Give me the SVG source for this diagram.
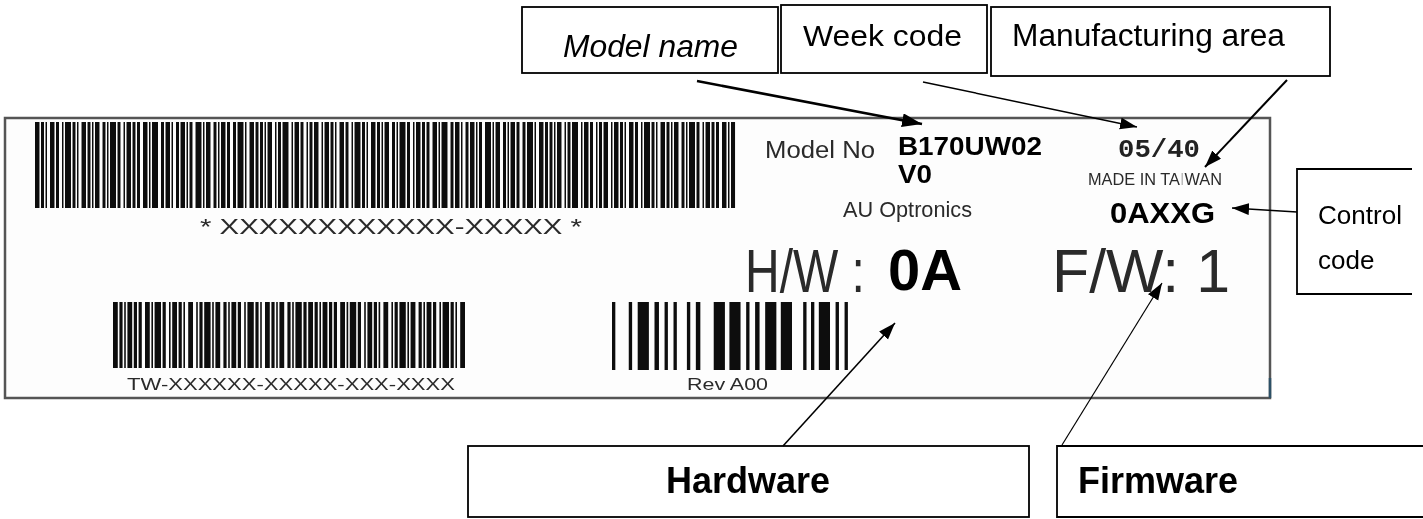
<svg xmlns="http://www.w3.org/2000/svg" width="1423" height="519" viewBox="0 0 1423 519">
<style>
.box{fill:#fff;stroke:#000;stroke-width:1.8}
.open{fill:none;stroke:#000;stroke-width:1.8}
.lbl{font-family:"Liberation Sans",Arial,sans-serif;fill:#000}
.lt{font-family:"Liberation Sans",Arial,sans-serif;fill:#2a2a2a}
.bold{font-family:"Liberation Sans",Arial,sans-serif;font-weight:bold;fill:#000}
.bar{fill:none;stroke:#111}
.con{fill:none;stroke:#000}
</style>
<defs>
<marker id="big" markerUnits="userSpaceOnUse" markerWidth="22" markerHeight="16" refX="20" refY="7" orient="auto">
<path d="M0,0 L20,7 L0,14 z" fill="#000"/>
</marker>
<marker id="mid" markerUnits="userSpaceOnUse" markerWidth="18" markerHeight="14" refX="17" refY="6" orient="auto">
<path d="M0,0 L17,6 L0,12 z" fill="#000"/>
</marker>
<filter id="soft" x="-5%" y="-5%" width="110%" height="110%"><feGaussianBlur stdDeviation="0.45"/></filter>
</defs>
<rect x="0" y="0" width="1423" height="519" fill="#fff"/>

<g id="label">
<rect x="5" y="118" width="1265" height="280" fill="#fdfdfd" stroke="#555" stroke-width="2.5"/>
<line x1="1270" y1="378" x2="1270" y2="398" stroke="#2d5066" stroke-width="2.5"/>
<g filter="url(#soft)">
<g transform="translate(35,0) scale(1.5,1)">
<line class="bar" x1="0" y1="165" x2="466.7" y2="165" stroke-width="86" stroke-dasharray="3 1 2 1 1 2 3 1 2 2 1 1 4 1 2 1 1 2 3 1 2 1 1 1 3 2 2 1 1 1 4 1 2 2 1 1 3 1 2 1 2 2 3 1 1 1 4 2 2 1 3 1 1 2 2 1 3 1 1 1 2 2 4 1 1 1 3 2 2 1 1 1 3 1 2 2 2 1 4 1 1 2 3 1 2 1 2 1 1 1 3 2 1 1 2 1 4 2 1 1 3 1 2 2 1 1 2 1 3 2 1 1"/>
</g>
<text class="lt" x="200" y="234" font-size="22" textLength="382" lengthAdjust="spacingAndGlyphs">* XXXXXXXXXXXX-XXXXX *</text>
<g transform="translate(113,0) scale(1.6,1)">
<line class="bar" x1="0" y1="335" x2="220" y2="335" stroke-width="66" stroke-dasharray="3 1 2 1 1 1 3 1 2 1 2 2 3 1 1 1 4 1 2 2 1 1 3 1 2 1 1 2 3 2 1 1 2 1 4 1 1 1 3 2 2 1 1 1 3 1 2 2 1 1 4 1 2 1 1 2 3 1 2 1 1 1 3 2 2 1 1 1 4 1 2 1"/>
</g>
<text class="lt" x="127" y="390" font-size="17" textLength="328" lengthAdjust="spacingAndGlyphs">TW-XXXXXX-XXXXX-XXX-XXXX</text>
<g transform="translate(612,0) scale(1.118,1)">
<line class="bar" x1="0" y1="336" x2="211" y2="336" stroke-width="68" stroke-dasharray="3 12 3 5 10 5 4 5 3 5 3 9 3 5 4 12 10 4 10 5 3 5 4 5 10 4 10 10 3 4 3 4 10 5 3 5 3 0"/>
</g>
<text class="lt" x="687" y="390" font-size="17" textLength="81" lengthAdjust="spacingAndGlyphs">Rev A00</text>
<text class="lt" x="765" y="158" font-size="23" textLength="110" lengthAdjust="spacingAndGlyphs">Model No</text>
<text class="lt" x="843" y="217" font-size="22" textLength="129" lengthAdjust="spacingAndGlyphs">AU Optronics</text>
<text x="1118" y="157" font-family="'Liberation Mono','DejaVu Sans Mono',monospace" font-weight="bold" font-size="26" fill="#222" textLength="82" lengthAdjust="spacingAndGlyphs">05/40</text>
<text class="lt" x="1088" y="185" font-size="16" textLength="134" lengthAdjust="spacingAndGlyphs" fill="#444">MADE IN TA<tspan fill="#bbb">I</tspan>WAN</text>
<text class="lt" transform="translate(745,292) scale(1,1.29)" font-size="48">H/W :</text>
<text class="lt" x="1052" y="292" font-size="62" textLength="178" lengthAdjust="spacingAndGlyphs">F/W: 1</text>
</g>
<text class="bold" x="898" y="155" font-size="25" textLength="144" lengthAdjust="spacingAndGlyphs">B170UW02</text>
<text class="bold" x="898" y="183" font-size="25" textLength="34" lengthAdjust="spacingAndGlyphs">V0</text>
<text class="bold" x="1110" y="223" font-size="30" textLength="105" lengthAdjust="spacingAndGlyphs">0AXXG</text>
<text class="bold" x="888" y="290" font-size="58" textLength="74" lengthAdjust="spacingAndGlyphs">0A</text>
</g>

<g id="model-name">
<rect class="box" x="522" y="7" width="256" height="66"/>
<text class="lbl" x="563" y="57" font-size="31.5" font-style="italic" textLength="175" lengthAdjust="spacingAndGlyphs">Model name</text>
</g>
<g id="week-code">
<rect class="box" x="781" y="5" width="206" height="68"/>
<text class="lbl" x="803" y="46" font-size="30" textLength="159" lengthAdjust="spacingAndGlyphs">Week code</text>
</g>
<g id="manufacturing-area">
<rect class="box" x="991" y="7" width="339" height="69"/>
<text class="lbl" x="1012" y="46" font-size="31" textLength="273" lengthAdjust="spacingAndGlyphs">Manufacturing area</text>
</g>
<g id="control-code">
<path class="open" d="M1412,169 H1297 V294 H1412"/>
<text class="lbl" x="1318" y="224" font-size="26" textLength="84" lengthAdjust="spacingAndGlyphs">Control</text>
<text class="lbl" x="1318" y="269" font-size="26">code</text>
</g>
<g id="hardware">
<rect class="box" x="468" y="446" width="561" height="71"/>
<text class="bold" x="748" y="493" font-size="36" text-anchor="middle">Hardware</text>
</g>
<g id="firmware">
<path class="open" d="M1425,446 H1057 V517 H1425"/>
<text class="bold" x="1078" y="493" font-size="36">Firmware</text>
</g>

<g id="connectors">
<line class="con" x1="697" y1="81" x2="922" y2="124" stroke-width="2.6" marker-end="url(#big)"/>
<line class="con" x1="923" y1="82" x2="1137" y2="127" stroke-width="1.5" marker-end="url(#mid)"/>
<line class="con" x1="1287" y1="80" x2="1205" y2="167" stroke-width="2" marker-end="url(#mid)"/>
<line class="con" x1="1297" y1="212" x2="1232" y2="208" stroke-width="1.6" marker-end="url(#mid)"/>
<line class="con" x1="783" y1="446" x2="895" y2="323" stroke-width="1.6" marker-end="url(#mid)"/>
<line class="con" x1="1062" y1="445" x2="1162" y2="283" stroke-width="1.2" marker-end="url(#mid)"/>
</g>
</svg>
